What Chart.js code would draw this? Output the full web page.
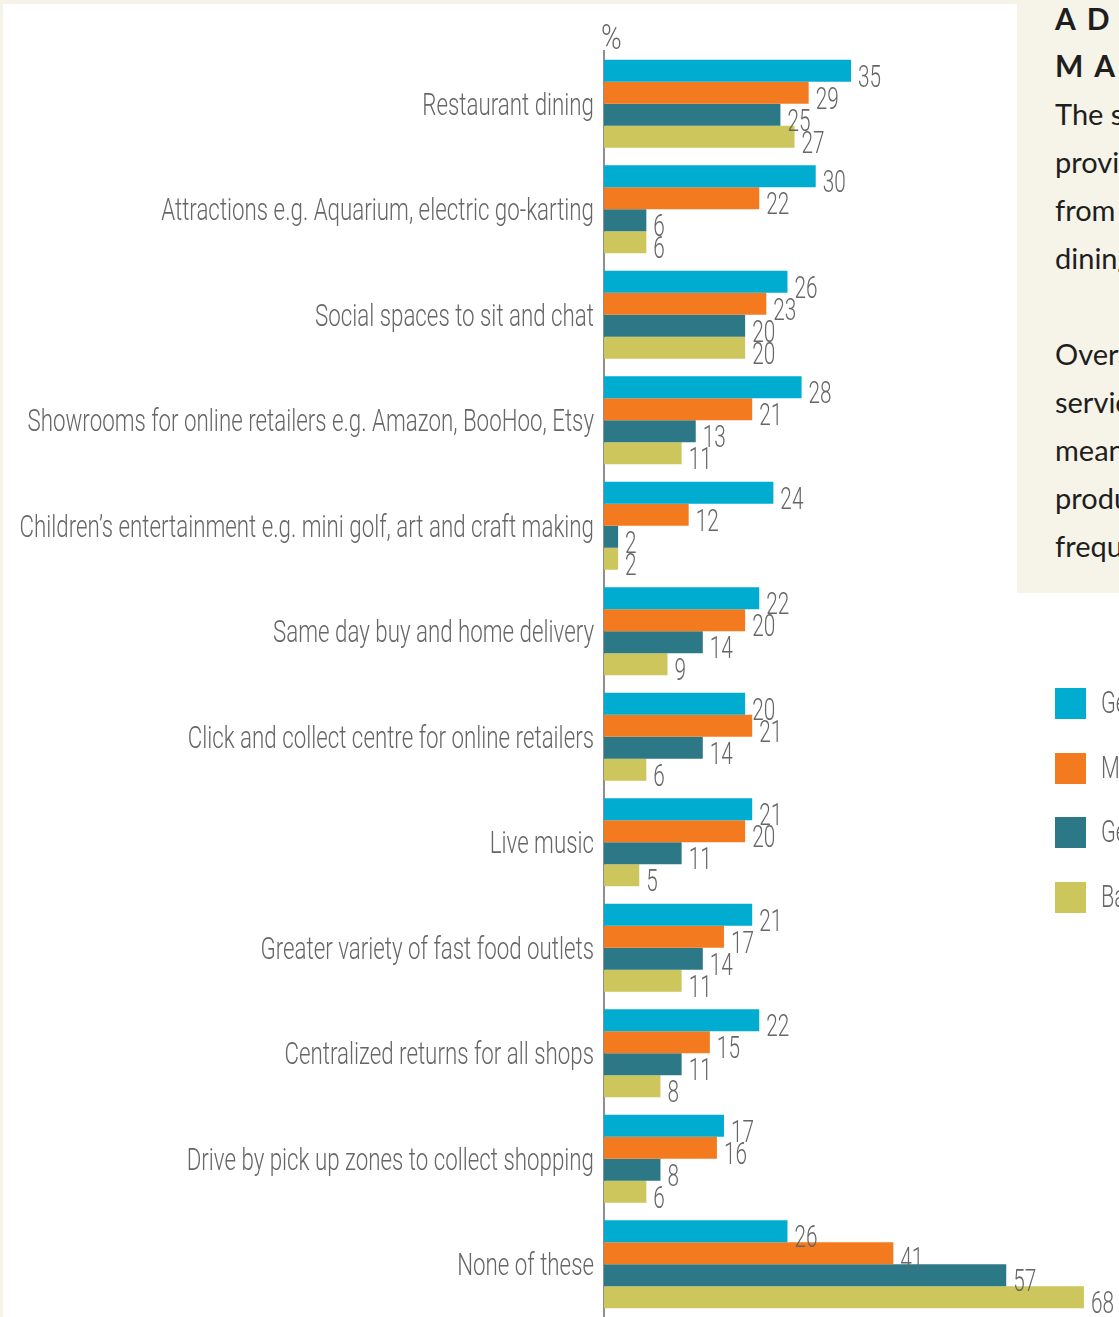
<!DOCTYPE html>
<html>
<head>
<meta charset="utf-8">
<script src="https://cdn.jsdelivr.net/npm/chart.js@4.4.1/dist/chart.umd.min.js"></script>
<style>
  html, body { margin: 0; padding: 0; width: 1119px; height: 1317px; overflow: hidden; background: #fff; }
  #wrap { position: relative; width: 1119px; height: 1317px; overflow: hidden; background: #fff; }
  #chart { position: absolute; left: 0; top: 0; }
  .frame { position: absolute; background: #f6f4e8; }
  #panel { position: absolute; left: 1017px; top: 0; width: 420px; height: 593px; background: #f6f4e8; }
  .ttl { position: absolute; left: 38px; white-space: nowrap; font-family: Lato, sans-serif; font-weight: 700;
         font-size: 30px; line-height: 47px; letter-spacing: 11px; color: #1e1e1e; }
  .txt { position: absolute; left: 38px; white-space: nowrap; font-family: Lato, sans-serif; font-weight: 400;
         font-size: 29px; line-height: 48px; color: #1e1e1e; }
  #legend { position: absolute; left: 1055px; top: 688px; }
  .item { position: absolute; left: 0; white-space: nowrap; height: 31px; }
  .sw { position: absolute; left: 0; top: 0; width: 31px; height: 31px; }
  .lab { position: absolute; left: 46px; top: -8px; line-height: 46px; font-family: Roboto, sans-serif;
         font-weight: 300; font-size: 31px; color: #666; transform: scaleX(0.7); transform-origin: 0 50%; }
</style>
</head>
<body>
<div id="wrap">
  <canvas id="chart" width="1119" height="1317"></canvas>
  <div class="frame" style="left:0;top:0;width:1119px;height:4px"></div>
  <div class="frame" style="left:0;top:0;width:3px;height:1317px"></div>
  <div id="panel"></div>
  <div id="legend"></div>
</div>
<script>
// Shopping-centre amenities that would draw each generation, in percent
const categories = [
  'Restaurant dining',
  'Attractions e.g. Aquarium, electric go-karting',
  'Social spaces to sit and chat',
  'Showrooms for online retailers e.g. Amazon, BooHoo, Etsy',
  'Children\u2019s entertainment e.g. mini golf, art and craft making',
  'Same day buy and home delivery',
  'Click and collect centre for online retailers',
  'Live music',
  'Greater variety of fast food outlets',
  'Centralized returns for all shops',
  'Drive by pick up zones to collect shopping',
  'None of these'
];
const seriesNames = ['Gen Z', 'Millennials', 'Gen X', 'Baby Boomers'];
const genZ        = [35, 30, 26, 28, 24, 22, 20, 21, 21, 22, 17, 26];
const millennials = [29, 22, 23, 21, 12, 20, 21, 20, 17, 15, 16, 41];
const genX        = [25,  6, 20, 13,  2, 14, 14, 11, 14, 11,  8, 57];
const boomers     = [27,  6, 20, 11,  2,  9,  6,  5, 11,  8,  6, 68];
const seriesColors = ['#00accf', '#f47a20', '#2d7886', '#ccc65c'];
const axisUnit = '%';
const axisMax = 70;

// Side panel copy
const panelTitle = ['ADDED', 'MAGNETS'];
const panelBody = ['The survey', 'provides', 'from restaurant', 'dining', '', 'Overall', 'services', 'means', 'products', 'frequently'];

const panel = document.getElementById('panel');
panelTitle.forEach((t, i) => {
  const d = document.createElement('div');
  d.className = 'ttl'; d.textContent = t; d.style.top = (-5 + i * 47) + 'px';
  panel.appendChild(d);
});
panelBody.forEach((t, i) => {
  const d = document.createElement('div');
  d.className = 'txt'; d.textContent = t; d.style.top = (90 + i * 48) + 'px';
  panel.appendChild(d);
});

const legend = document.getElementById('legend');
seriesNames.forEach((n, i) => {
  const it = document.createElement('div');
  it.className = 'item'; it.style.top = Math.round(i * 64.7) + 'px';
  it.innerHTML = '<div class="sw" style="background:' + seriesColors[i] + '"></div><div class="lab"></div>';
  it.querySelector('.lab').textContent = n;
  legend.appendChild(it);
});

// Narrow light lettering: a light face squeezed horizontally
const textFont = "300 31px Roboto, sans-serif";
const unitFont = "300 35px Roboto, sans-serif";
const textColor = '#666';
function narrowText(ctx, text, x, y, align, squeeze) {
  ctx.save();
  ctx.translate(x, y);
  ctx.scale(squeeze, 1);
  ctx.textAlign = align;
  ctx.fillText(text, 0, 0);
  ctx.restore();
}

// Category names on the axis, value labels beside each bar, unit sign over the axis
const chartText = {
  id: 'chartText',
  afterDatasetsDraw(chart) {
    const ctx = chart.ctx;
    const area = chart.chartArea;
    const yScale = chart.scales.y;
    ctx.save();
    ctx.font = textFont;
    ctx.fillStyle = textColor;
    ctx.textBaseline = 'alphabetic';
    yScale.ticks.forEach((t, i) => {
      narrowText(ctx, yScale.getLabelForValue(t.value), area.left - 10, yScale.getPixelForTick(i) + 11, 'right', 0.72);
    });
    chart.data.datasets.forEach((ds, i) => {
      chart.getDatasetMeta(i).data.forEach((bar, j) => {
        narrowText(ctx, String(ds.data[j]), bar.x + 7, bar.y + 16, 'left', 0.67);
      });
    });
    ctx.font = unitFont;
    narrowText(ctx, axisUnit, area.left - 3, area.top - 2, 'left', 0.8);
    ctx.restore();
  }
};

new Chart(document.getElementById('chart'), {
  type: 'bar',
  data: {
    labels: categories,
    datasets: [genZ, millennials, genX, boomers].map((d, i) => ({
      label: seriesNames[i],
      data: d,
      backgroundColor: seriesColors[i],
      borderWidth: 0,
      categoryPercentage: 0.834,
      barPercentage: 1.0
    }))
  },
  options: {
    indexAxis: 'y',
    responsive: false,
    animation: false,
    layout: { padding: { left: 4, top: 51, right: 21, bottom: 0 } },
    plugins: { legend: { display: false }, tooltip: { enabled: false } },
    scales: {
      x: { display: false, min: 0, max: axisMax },
      y: {
        grid: { display: false, drawTicks: false },
        border: { display: true, color: '#8e8e8e', width: 2 },
        ticks: { display: false },
        afterFit(scale) { scale.width = 600; }
      }
    }
  },
  plugins: [chartText]
});
</script>
</body>
</html>
